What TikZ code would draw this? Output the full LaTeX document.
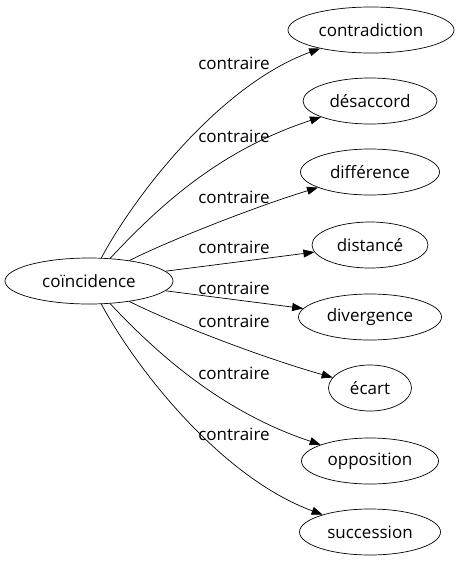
\documentclass[tikz,border=0pt]{standalone}
\usepackage{fontspec}
\setmainfont{Open Sans}
\usetikzlibrary{shapes.geometric,arrows.meta}

\tikzset{
	word/.style={draw, ellipse, line width=0.7pt, minimum height=46pt, inner sep=0pt, font=\fontsize{17}{20}\selectfont},
	rel/.style={inner sep=1pt, font=\fontsize{17}{20}\selectfont},
	link/.style={-{Triangle[length=11pt,width=8pt]}, line width=0.7pt},
}

\begin{document}
\begin{tikzpicture}[x=1pt, y=-1pt]
		% Nodes, labels and links:
		\useasboundingbox (0, 0) rectangle (458, 563);
		\node[word, minimum width=168pt] (coincidence) at (89, 281){coïncidence};
		\node[word, minimum width=166pt] (contradiction) at (371, 30){contradiction};
		\node[word, minimum width=134pt] (desaccord) at (370, 101){désaccord};
		\node[word, minimum width=139pt] (difference) at (370, 172){différence};
		\node[word, minimum width=116pt] (distance) at (370, 245){distancé};
		\node[word, minimum width=143pt] (divergence) at (370, 317){divergence};
		\node[word, minimum width=83pt] (ecart) at (370, 388){écart};
		\node[word, minimum width=137pt] (opposition) at (370, 461){opposition};
		\node[word, minimum width=141pt] (succession) at (370, 532){succession};
		\draw[link] (coincidence) .. controls (135, 195) and (220, 85) .. (contradiction);
		\draw[link] (coincidence) .. controls (160, 205) and (220, 150) .. (desaccord);
		\draw[link] (coincidence) .. controls (170, 240) and (260, 205) .. (difference);
		\draw[link] (coincidence) -- (distance);
		\draw[link] (coincidence) -- (divergence);
		\draw[link] (coincidence) .. controls (170, 322) and (260, 357) .. (ecart);
		\draw[link] (coincidence) .. controls (160, 357) and (225, 413) .. (opposition);
		\draw[link] (coincidence) .. controls (135, 367) and (220, 477) .. (succession);
		\node[rel] (r1) at (234, 63){contraire};
		\node[rel] (r2) at (234, 136){contraire};
		\node[rel] (r3) at (234, 197){contraire};
		\node[rel] (r4) at (234, 247){contraire};
		\node[rel] (r5) at (234, 288){contraire};
		\node[rel] (r6) at (234, 321){contraire};
		\node[rel] (r7) at (234, 373){contraire};
		\node[rel] (r8) at (234, 434){contraire};
	\end{tikzpicture}
\end{document}
